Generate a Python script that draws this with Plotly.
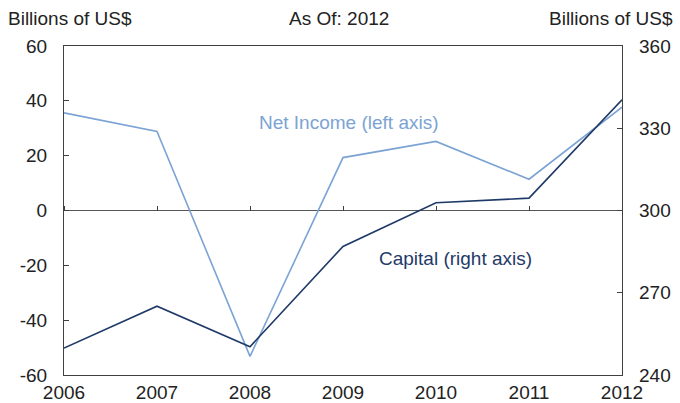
import plotly.graph_objects as go

years = [2006, 2007, 2008, 2009, 2010, 2011, 2012]
net_income = [35.6, 28.8, -53.2, 19.3, 25.2, 11.4, 37.7]   # left axis, billions of US$
capital = [249.8, 265.1, 250.3, 286.9, 302.8, 304.5, 340.4]  # right axis, billions of US$

left_ticks = [-60, -40, -20, 0, 20, 40, 60]
right_ticks = [240, 270, 300, 330, 360]

LIGHT = "#7ba3d3"
DARK = "#1f3a68"
AXIS = "#404040"
FONT = "Liberation Sans, Arial, sans-serif"
FS = 19

fig = go.Figure()
fig.add_trace(go.Scatter(x=years, y=net_income, mode="lines",
                         line=dict(color=LIGHT, width=1.6), yaxis="y", xaxis="x"))
fig.add_trace(go.Scatter(x=years, y=capital, mode="lines",
                         line=dict(color=DARK, width=1.6), yaxis="y2", xaxis="x"))
# invisible point so the tick-only x axis on the zero line is drawn
fig.add_trace(go.Scatter(x=[years[0]], y=[0], xaxis="x2", yaxis="y",
                         mode="markers", marker=dict(opacity=0),
                         hoverinfo="skip"))

fig.update_layout(
    width=680, height=403,
    margin=dict(l=64, r=58, t=46, b=28),
    paper_bgcolor="white", plot_bgcolor="white",
    showlegend=False,
    font=dict(family=FONT, size=FS, color="#222222"),
    xaxis=dict(range=[2006, 2012], tickvals=years, ticks="",
               showgrid=False, zeroline=False, showline=True,
               linecolor=AXIS, linewidth=1.2, mirror=True,
               automargin=False, ticklabelstandoff=0),
    # tick marks sitting on the zero line, pointing up
    xaxis2=dict(range=[2006, 2012], tickvals=years, overlaying="x",
                anchor="free", position=0.5, side="top",
                ticks="outside", ticklen=5, tickcolor=AXIS, tickwidth=1,
                showticklabels=False, showgrid=False, zeroline=False,
                showline=False, automargin=False),
    yaxis=dict(range=[-60, 60], tickvals=left_ticks,
               ticktext=[str(v) for v in left_ticks], ticks="inside",
               ticklen=5, tickcolor=AXIS, showgrid=False,
               zeroline=True, zerolinecolor="#555555", zerolinewidth=1,
               showline=True, linecolor=AXIS, linewidth=1.2, mirror=True,
               automargin=False, ticklabelstandoff=12),
    yaxis2=dict(range=[240, 360], tickvals=right_ticks,
                ticktext=[str(v) for v in right_ticks], overlaying="y",
                side="right", ticks="inside", ticklen=5, tickcolor=AXIS,
                showgrid=False, zeroline=False, showline=False,
                automargin=False, ticklabelstandoff=16),
)

fig.add_annotation(text="Billions of US$", xref="paper", yref="paper",
                   x=-58/558, y=1, yshift=28, xanchor="left", yanchor="middle",
                   showarrow=False)
fig.add_annotation(text="As Of: 2012", xref="paper", yref="paper",
                   x=(339-64)/558, y=1, yshift=28, xanchor="center",
                   yanchor="middle", showarrow=False)
fig.add_annotation(text="Billions of US$", xref="paper", yref="paper",
                   x=(675-64)/558, y=1, yshift=28, xanchor="right",
                   yanchor="middle", showarrow=False)

fig.add_annotation(text="Net Income (left axis)", x=2008.08, y=32.1,
                   xref="x", yref="y", showarrow=False, xanchor="left",
                   font=dict(color=LIGHT, size=FS))
fig.add_annotation(text="Capital (right axis)", x=2009.37, y=282.5,
                   xref="x", yref="y2", showarrow=False, xanchor="left",
                   font=dict(color=DARK, size=FS))

fig.write_html("out.html")
